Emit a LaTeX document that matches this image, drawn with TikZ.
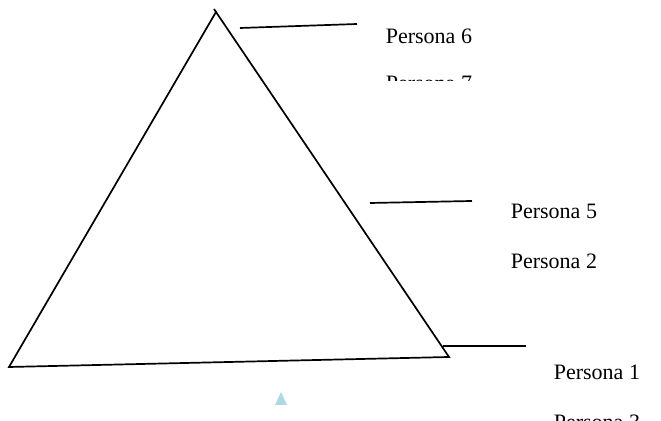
\documentclass[tikz,border=0pt]{standalone}
\usepackage{fontspec}
\setmainfont{Liberation Serif}
\definecolor{markblue}{RGB}{173,216,230}

\begin{document}
\begin{tikzpicture}[x=0.5pt,y=-0.5pt,line width=0.85pt,
  lbl/.style={anchor=base west,inner sep=0pt,font=\fontsize{11}{13}\selectfont}]
\useasboundingbox (0,0) rectangle (661,421);
\coordinate (top) at (216,12);
\coordinate (bl) at (9,367);
\coordinate (br) at (449,357);
\draw (top)--(bl)--(br)--cycle;
\draw (top)--(214,9);
% tick lines
\coordinate (t6a) at (240,28); \coordinate (t6b) at (357,24);
\coordinate (t5a) at (370,203); \coordinate (t5b) at (472,201);
\coordinate (t1a) at (443,346); \coordinate (t1b) at (526,346);
\draw (t6a)--(t6b);
\draw (t5a)--(t5b);
\draw (t1a)--(t1b);
% labels
\node[lbl] (p6) at (385,44) {Persona 6};
\begin{scope}
\clip (370,0) rectangle (520,81);
\node[lbl] (p7) at (385,91) {Persona 7};
\end{scope}
\node[lbl] (p5) at (510,219) {Persona 5};
\node[lbl] (p2) at (510,269) {Persona 2};
\node[lbl] (p1) at (553,380) {Persona 1};
\begin{scope}
\clip (540,0) rectangle (661,421);
\node[lbl] (p3) at (553,430) {Persona 3};
\end{scope}
% marker
\fill[markblue] (281,392)--(287,405)--(275,405)--cycle;
\end{tikzpicture}
\end{document}
